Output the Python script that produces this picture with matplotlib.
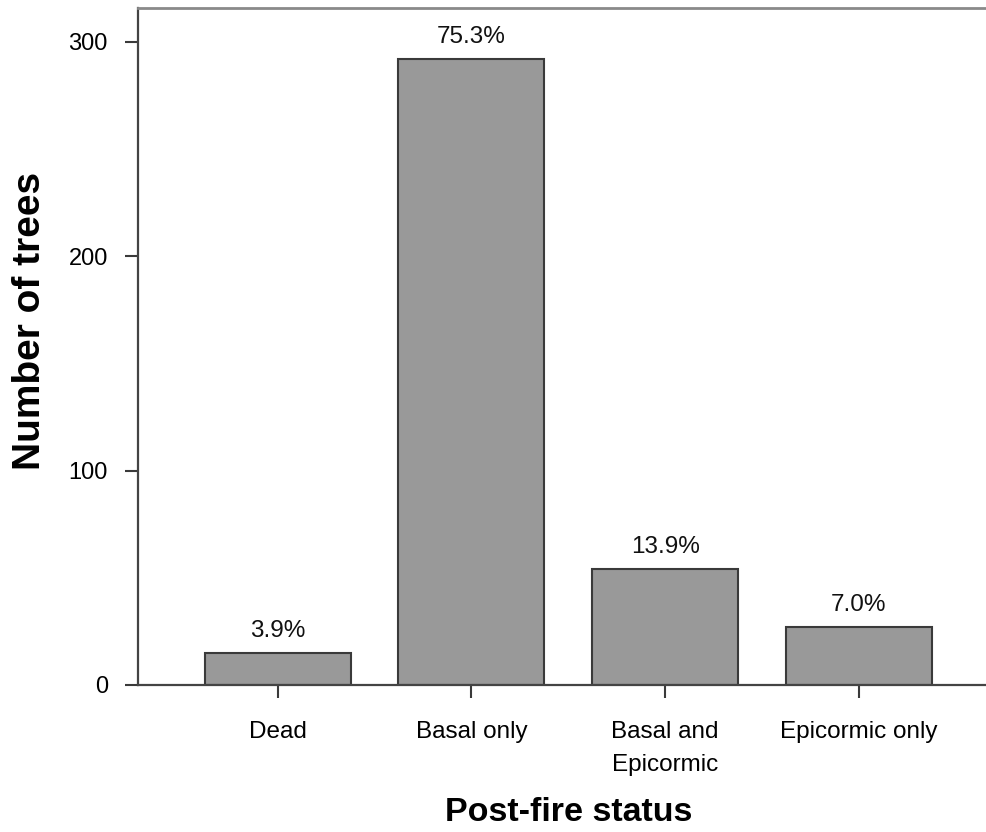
import matplotlib.pyplot as plt
import numpy as np

# data
status = ["Dead", "Basal only", "Basal and\nEpicormic", "Epicormic only"]
n_trees = [15, 292, 54, 27]
pct_labels = ["3.9%", "75.3%", "13.9%", "7.0%"]
y_ticks = [0, 100, 200, 300]

plt.rcParams['font.family'] = ['Liberation Sans', 'DejaVu Sans']

fig = plt.figure(figsize=(9.86, 8.32), dpi=100)
ax = fig.add_axes([0.1397, 0.1767, 0.8733, 0.8137])

x = np.arange(len(status))
bars = ax.bar(x, n_trees, width=0.754, color='#999999', edgecolor='#3a3a3a',
              linewidth=1.5, zorder=2)

# percent labels above each bar
for rect, lab in zip(bars, pct_labels):
    ax.annotate(lab, (rect.get_x() + rect.get_width() / 2, rect.get_height()),
                xytext=(0, 8), textcoords='offset points',
                ha='center', va='bottom', fontsize=17.5, color='#111111')

ax.set_xlim(-0.723, 3.723)
ax.set_ylim(0, 315.8)
ax.set_xticks(x)
ax.set_xticklabels(status, fontsize=17.5, linespacing=1.65)
ax.set_yticks(y_ticks)
ax.set_yticklabels([str(v) for v in y_ticks], fontsize=17)

ax.tick_params(axis='x', length=9, width=1.5, color='#3a3a3a', pad=17)
ax.tick_params(axis='y', length=9.5, width=1.5, color='#3a3a3a', pad=12)

for side in ['left', 'bottom']:
    ax.spines[side].set_color('#444444')
    ax.spines[side].set_linewidth(1.6)
ax.spines['top'].set_color('#8a8a8a')
ax.spines['top'].set_linewidth(2)
ax.spines['right'].set_visible(False)

ax.set_xlabel("Post-fire status", fontsize=24.5, fontweight='bold')
ax.xaxis.set_label_coords(0.5, -0.165)
ax.set_ylabel("Number of trees", fontsize=28, fontweight='bold')
ax.yaxis.label.set_va('center')
ax.yaxis.set_label_coords(-0.125, 0.538)

fig.savefig("out.png", dpi=100)
